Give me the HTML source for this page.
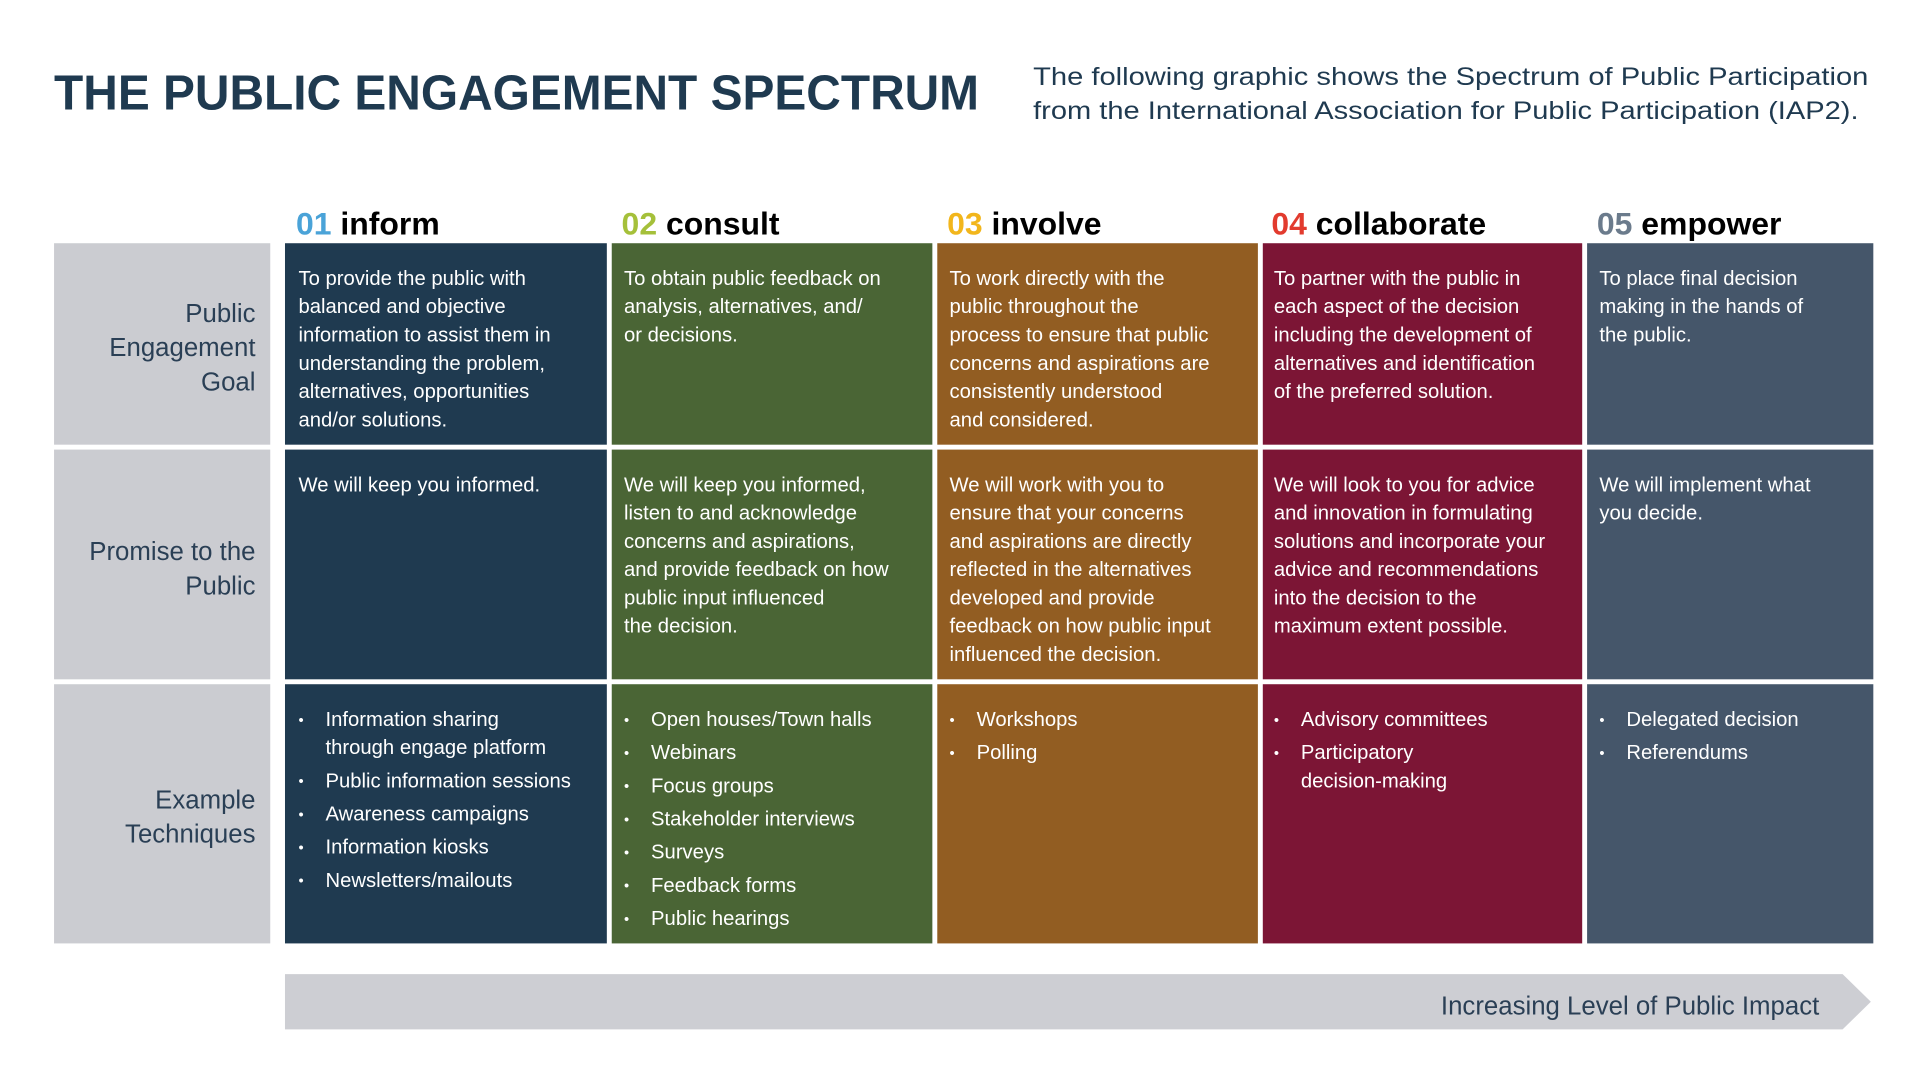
<!DOCTYPE html>
<html><head><meta charset="utf-8"><style>
html,body{margin:0;padding:0;background:#fff;}
svg{display:block;}
text{font-family:"Liberation Sans",sans-serif;}
.b{fill:#fff;font-size:16.5px;}
.l{fill:#2a3f55;font-size:21px;text-anchor:end;}
.h{font-size:26px;font-weight:bold;}
</style></head><body>
<svg width="1920" height="1081" viewBox="0 0 1563 880" preserveAspectRatio="none" xmlns="http://www.w3.org/2000/svg">
<rect width="1563" height="880" fill="#fff"/>
<text x="44" y="89" font-size="40" font-weight="bold" fill="#1f3a50" textLength="753" lengthAdjust="spacingAndGlyphs">THE PUBLIC ENGAGEMENT SPECTRUM</text>
<text x="841" y="69" font-size="20.5" fill="#1f3a50" textLength="680" lengthAdjust="spacingAndGlyphs">The following graphic shows the Spectrum of Public Participation</text>
<text x="841" y="97" font-size="20.5" fill="#1f3a50" textLength="672" lengthAdjust="spacingAndGlyphs">from the International Association for Public Participation (IAP2).</text>

<!-- headers -->
<g class="h">
<text x="241" y="191"><tspan fill="#4aa3d8">01</tspan><tspan fill="#000"> inform</tspan></text>
<text x="506" y="191"><tspan fill="#a5c03a">02</tspan><tspan fill="#000"> consult</tspan></text>
<text x="771" y="191"><tspan fill="#f2b61c">03</tspan><tspan fill="#000"> involve</tspan></text>
<text x="1035" y="191"><tspan fill="#e23b2e">04</tspan><tspan fill="#000"> collaborate</tspan></text>
<text x="1300" y="191"><tspan fill="#6b7b8c">05</tspan><tspan fill="#000"> empower</tspan></text>
</g>

<!-- label column -->
<rect x="44" y="198" width="176" height="164" fill="#cbccd1"/>
<rect x="44" y="366" width="176" height="187" fill="#cbccd1"/>
<rect x="44" y="557" width="176" height="211" fill="#cbccd1"/>
<text class="l" x="208" y="262">Public</text>
<text class="l" x="208" y="290">Engagement</text>
<text class="l" x="208" y="318">Goal</text>
<text class="l" x="208" y="456">Promise to the</text>
<text class="l" x="208" y="484">Public</text>
<text class="l" x="208" y="658">Example</text>
<text class="l" x="208" y="686">Techniques</text>

<!-- columns -->
<g>
<rect x="232" y="198" width="262" height="164" fill="#1f3a50"/><rect x="232" y="366" width="262" height="187" fill="#1f3a50"/><rect x="232" y="557" width="262" height="211" fill="#1f3a50"/>
<rect x="498" y="198" width="261" height="164" fill="#4a6535"/><rect x="498" y="366" width="261" height="187" fill="#4a6535"/><rect x="498" y="557" width="261" height="211" fill="#4a6535"/>
<rect x="763" y="198" width="261" height="164" fill="#925d22"/><rect x="763" y="366" width="261" height="187" fill="#925d22"/><rect x="763" y="557" width="261" height="211" fill="#925d22"/>
<rect x="1028" y="198" width="260" height="164" fill="#7c1535"/><rect x="1028" y="366" width="260" height="187" fill="#7c1535"/><rect x="1028" y="557" width="260" height="211" fill="#7c1535"/>
<rect x="1292" y="198" width="233" height="164" fill="#45566a"/><rect x="1292" y="366" width="233" height="187" fill="#45566a"/><rect x="1292" y="557" width="233" height="211" fill="#45566a"/>
</g>

<g class="b">
<!-- row 1 -->
<text x="243" y="232">To provide the public with</text>
<text x="243" y="255">balanced and objective</text>
<text x="243" y="278">information to assist them in</text>
<text x="243" y="301">understanding the problem,</text>
<text x="243" y="324">alternatives, opportunities</text>
<text x="243" y="347">and/or solutions.</text>
<text x="508" y="232">To obtain public feedback on</text>
<text x="508" y="255">analysis, alternatives, and/</text>
<text x="508" y="278">or decisions.</text>
<text x="773" y="232">To work directly with the</text>
<text x="773" y="255">public throughout the</text>
<text x="773" y="278">process to ensure that public</text>
<text x="773" y="301">concerns and aspirations are</text>
<text x="773" y="324">consistently understood</text>
<text x="773" y="347">and considered.</text>
<text x="1037" y="232">To partner with the public in</text>
<text x="1037" y="255">each aspect of the decision</text>
<text x="1037" y="278">including the development of</text>
<text x="1037" y="301">alternatives and identification</text>
<text x="1037" y="324">of the preferred solution.</text>
<text x="1302" y="232">To place final decision</text>
<text x="1302" y="255">making in the hands of</text>
<text x="1302" y="278">the public.</text>
<!-- row 2 -->
<text x="243" y="400">We will keep you informed.</text>
<text x="508" y="400">We will keep you informed,</text>
<text x="508" y="423">listen to and acknowledge</text>
<text x="508" y="446">concerns and aspirations,</text>
<text x="508" y="469">and provide feedback on how</text>
<text x="508" y="492">public input influenced</text>
<text x="508" y="515">the decision.</text>
<text x="773" y="400">We will work with you to</text>
<text x="773" y="423">ensure that your concerns</text>
<text x="773" y="446">and aspirations are directly</text>
<text x="773" y="469">reflected in the alternatives</text>
<text x="773" y="492">developed and provide</text>
<text x="773" y="515">feedback on how public input</text>
<text x="773" y="538">influenced the decision.</text>
<text x="1037" y="400">We will look to you for advice</text>
<text x="1037" y="423">and innovation in formulating</text>
<text x="1037" y="446">solutions and incorporate your</text>
<text x="1037" y="469">advice and recommendations</text>
<text x="1037" y="492">into the decision to the</text>
<text x="1037" y="515">maximum extent possible.</text>
<text x="1302" y="400">We will implement what</text>
<text x="1302" y="423">you decide.</text>
<!-- row 3 -->
<text x="243" y="590" font-size="12">•</text><text x="265" y="591">Information sharing</text>
<text x="265" y="614">through engage platform</text>
<text x="243" y="640" font-size="12">•</text><text x="265" y="641">Public information sessions</text>
<text x="243" y="667" font-size="12">•</text><text x="265" y="668">Awareness campaigns</text>
<text x="243" y="694" font-size="12">•</text><text x="265" y="695">Information kiosks</text>
<text x="243" y="721" font-size="12">•</text><text x="265" y="722">Newsletters/mailouts</text>

<text x="508" y="590" font-size="12">•</text><text x="530" y="591">Open houses/Town halls</text>
<text x="508" y="617" font-size="12">•</text><text x="530" y="618">Webinars</text>
<text x="508" y="644" font-size="12">•</text><text x="530" y="645">Focus groups</text>
<text x="508" y="671" font-size="12">•</text><text x="530" y="672">Stakeholder interviews</text>
<text x="508" y="698" font-size="12">•</text><text x="530" y="699">Surveys</text>
<text x="508" y="725" font-size="12">•</text><text x="530" y="726">Feedback forms</text>
<text x="508" y="752" font-size="12">•</text><text x="530" y="753">Public hearings</text>

<text x="773" y="590" font-size="12">•</text><text x="795" y="591">Workshops</text>
<text x="773" y="617" font-size="12">•</text><text x="795" y="618">Polling</text>

<text x="1037" y="590" font-size="12">•</text><text x="1059" y="591">Advisory committees</text>
<text x="1037" y="617" font-size="12">•</text><text x="1059" y="618">Participatory</text>
<text x="1059" y="641">decision-making</text>

<text x="1302" y="590" font-size="12">•</text><text x="1324" y="591">Delegated decision</text>
<text x="1302" y="617" font-size="12">•</text><text x="1324" y="618">Referendums</text>
</g>

<!-- arrow -->
<polygon points="232,793 1500,793 1523,815.5 1500,838 232,838" fill="#cdced3"/>
<text x="1481" y="826" font-size="21" fill="#2a3f55" text-anchor="end">Increasing Level of Public Impact</text>
</svg>
</body></html>
